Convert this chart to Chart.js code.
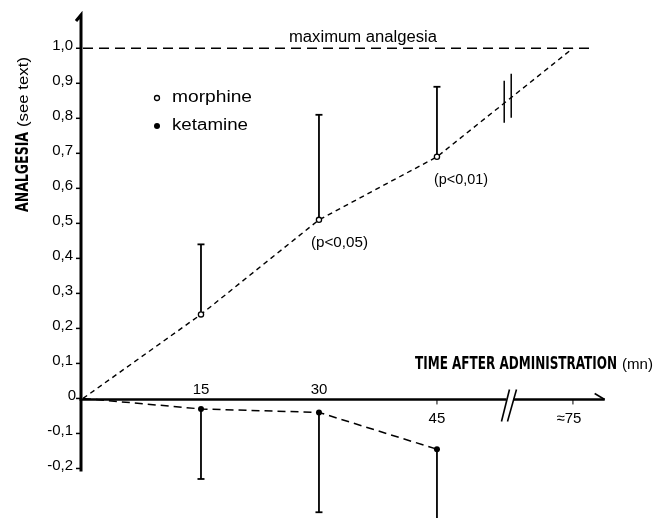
<!DOCTYPE html>
<html><head><meta charset="utf-8">
<script src="https://cdn.jsdelivr.net/npm/chart.js@4.4.1/dist/chart.umd.min.js"></script>
<style>html,body{margin:0;padding:0;background:#fff}canvas{display:block}</style>
</head><body>
<canvas id="c" width="655" height="518"></canvas>
<script>
// ---- data ----
const times = [0, 15, 30, 45, 75];
const morphine = [0, 0.24, 0.51, 0.69, 1.0];
const morphineUpper = [null, 0.44, 0.81, 0.89, null];
const morphineNotes = [null, null, '(p<0,05)', '(p<0,01)', null];
const ketamineTimes = [0, 15, 30, 45];
const ketamine = [0, -0.03, -0.04, -0.145];
const ketamineLower = [null, -0.23, -0.325, -0.36];
const yTicks = [1.0, 0.9, 0.8, 0.7, 0.6, 0.5, 0.4, 0.3, 0.2, 0.1, 0, -0.1, -0.2];
const xTicksAbove = [15, 30];
const xTicksBelow = [45, 75];
const xTickText = {15: '15', 30: '30', 45: '45', 75: '≈75'};
const maxAnalgesia = 1.0;
const maxLineEnd = 79;     // minutes (after axis break)
const axisEnd = 82;        // minutes (arrow tip)
const axisBreakAt = 61;    // minutes ("//" on the time axis)
const lineBreakAt = 60.5;  // minutes ("||" on the morphine line)

// axis break: after 45 mn the time axis is compressed
const BREAK = 45, SQUEEZE = 0.5763;
function bx(t){ return t <= BREAK ? t : BREAK + (t - BREAK) * SQUEEZE; }
function fmtY(v){ return v === 0 ? '0' : v.toFixed(1).replace('.', ','); }

const FAM = '"Liberation Sans", Arial, sans-serif';
const COND = '"DejaVu Sans Condensed", "Liberation Sans Narrow", sans-serif';

function txt(ctx, s, x, y, size, o = {}){
  const weight = o.weight || 'normal', family = o.family || FAM, align = o.align || 'left';
  ctx.save();
  ctx.font = `${weight} ${size}px ${family}`;
  ctx.textBaseline = 'alphabetic';
  ctx.textAlign = 'left';
  const w = ctx.measureText(s).width;
  const sx = o.width ? o.width / w : 1;
  const left = align === 'left' ? x : align === 'center' ? x - w * sx / 2 : x - w * sx;
  ctx.translate(left, y); ctx.scale(sx, 1);
  ctx.fillStyle = '#000';
  ctx.fillText(s, 0, 0);
  ctx.restore();
}
function line(ctx, x1, y1, x2, y2, w){
  ctx.lineWidth = w; ctx.beginPath(); ctx.moveTo(x1, y1); ctx.lineTo(x2, y2); ctx.stroke();
}

const deco = {
  id: 'deco',
  beforeDraw(chart){
    const ctx = chart.ctx; ctx.save(); ctx.fillStyle = '#fff'; ctx.fillRect(0, 0, chart.width, chart.height); ctx.restore();
  },
  beforeDatasetsDraw(chart){
    const {ctx, scales: {x, y}} = chart;
    const X = t => x.getPixelForValue(bx(t)), Y = v => y.getPixelForValue(v);
    ctx.save();
    ctx.strokeStyle = '#000'; ctx.fillStyle = '#000'; ctx.lineCap = 'butt';
    const ax = X(0) - 2;
    // y axis
    ctx.lineWidth = 3;
    ctx.beginPath(); ctx.moveTo(ax, Y(-0.2) + 3); ctx.lineTo(ax, y.top); ctx.lineTo(ax - 5, y.top + 6); ctx.stroke();
    yTicks.forEach(v => {
      line(ctx, ax - 5, Y(v), ax, Y(v), 1.5);
      txt(ctx, fmtY(v), v === 0 ? ax - 5 : ax - 8, Y(v) + 1.5, 15, {align: 'right'});
    });
    // x axis
    const y0 = Y(0) + 1;
    const brk = X(axisBreakAt);
    line(ctx, ax - 1.5, y0, brk - 3, y0, 2.5);
    line(ctx, brk + 4, y0, X(axisEnd), y0, 2.5);
    line(ctx, X(axisEnd), y0, X(axisEnd) - 10, y0 - 6, 1.6);
    line(ctx, brk - 8, y0 + 22, brk, y0 - 10, 1.6);
    line(ctx, brk - 2, y0 + 22, brk + 7, y0 - 10, 1.6);
    xTicksAbove.forEach(t => txt(ctx, xTickText[t], X(t), y0 - 5, 15, {align: 'center'}));
    xTicksBelow.forEach(t => {
      line(ctx, X(t), y0, X(t), y0 + 5, 1);
      txt(ctx, xTickText[t], X(t) - (t === 75 ? 4 : 0), y0 + 24, 15, {align: 'center'});
    });
    // error bars
    ctx.lineWidth = 1.8;
    times.forEach((t, i) => {
      if (morphineUpper[i] == null) return;
      const px = X(t);
      line(ctx, px, Y(morphine[i]), px, Y(morphineUpper[i]), 1.8);
      line(ctx, px - 3.5, Y(morphineUpper[i]), px + 3.5, Y(morphineUpper[i]), 1.8);
    });
    ketamineTimes.forEach((t, i) => {
      if (ketamineLower[i] == null) return;
      const px = X(t);
      line(ctx, px, Y(ketamine[i]), px, Y(ketamineLower[i]), 1.8);
      line(ctx, px - 3.5, Y(ketamineLower[i]), px + 3.5, Y(ketamineLower[i]), 1.8);
    });
    // break marks on the morphine line
    const i45 = times.indexOf(45), i75 = times.indexOf(75);
    const f = (lineBreakAt - 45) / (75 - 45);
    const vb = morphine[i45] + f * (morphine[i75] - morphine[i45]);
    const pbx = X(lineBreakAt), pby = Y(vb);
    line(ctx, pbx - 3, pby - 20, pbx - 3, pby + 22, 1.5);
    line(ctx, pbx + 4, pby - 27, pbx + 4, pby + 17, 1.5);
    ctx.restore();
  },
  afterDatasetsDraw(chart){
    const {ctx, scales: {x, y}} = chart;
    const X = t => x.getPixelForValue(bx(t)), Y = v => y.getPixelForValue(v);
    ctx.save();
    // labels
    txt(ctx, 'maximum analgesia', 289, 42, 16, {width: 148});
    // legend
    ctx.strokeStyle = '#000'; ctx.fillStyle = '#fff'; ctx.lineWidth = 1.3;
    ctx.beginPath(); ctx.arc(157, 98, 2.5, 0, Math.PI * 2); ctx.fill(); ctx.stroke();
    ctx.fillStyle = '#000';
    ctx.beginPath(); ctx.arc(157, 126, 3, 0, Math.PI * 2); ctx.fill();
    txt(ctx, 'morphine', 172, 102, 16, {width: 80});
    txt(ctx, 'ketamine', 172, 130, 16, {width: 76});
    // significance notes
    times.forEach((t, i) => {
      if (!morphineNotes[i]) return;
      txt(ctx, morphineNotes[i], X(t) - (t === 30 ? 8 : 3), Y(morphine[i]) + 27, 15, {width: t === 30 ? 57 : 54});
    });
    // axis titles
    txt(ctx, 'TIME AFTER ADMINISTRATION', 415, 369, 17, {weight: 'bold', family: COND, width: 202});
    txt(ctx, '(mn)', 622, 369, 14, {width: 31});
    ctx.save();
    ctx.translate(28, 212); ctx.rotate(-Math.PI / 2);
    txt(ctx, 'ANALGESIA', 0, 0, 17, {weight: 'bold', family: COND, width: 80});
    txt(ctx, '(see text)', 85, 0, 14, {width: 70});
    ctx.restore();
    ctx.restore();
  }
};

new Chart(document.getElementById('c'), {
  type: 'scatter',
  data: {
    datasets: [
      {
        label: 'maximum analgesia',
        data: [{x: bx(0), y: maxAnalgesia}, {x: bx(maxLineEnd), y: maxAnalgesia}],
        showLine: true, borderColor: '#000', borderWidth: 1.4, borderDash: [10, 6], pointRadius: 0
      },
      {
        label: 'morphine',
        data: times.map((t, i) => ({x: bx(t), y: morphine[i]})),
        showLine: true, borderColor: '#000', borderWidth: 1.4, borderDash: [5, 4],
        pointRadius: times.map((t, i) => morphineUpper[i] == null ? 0 : 2.6),
        pointBackgroundColor: '#fff', pointBorderColor: '#000', pointBorderWidth: 1.3
      },
      {
        label: 'ketamine',
        data: ketamineTimes.map((t, i) => ({x: bx(t), y: ketamine[i]})),
        showLine: true, borderColor: '#000', borderWidth: 1.5, borderDash: [8, 5],
        pointRadius: ketamineTimes.map((t, i) => ketamineLower[i] == null ? 0 : 3),
        pointBackgroundColor: '#000', pointBorderColor: '#000', pointBorderWidth: 0
      }
    ]
  },
  options: {
    responsive: false, animation: false, events: [],
    layout: {padding: {left: 83, right: 45, top: 15, bottom: 0}},
    scales: {
      x: {type: 'linear', display: false, min: 0, max: 67},
      y: {type: 'linear', display: false, min: -0.33, max: 1.095}
    },
    plugins: {legend: {display: false}, tooltip: {enabled: false}}
  },
  plugins: [deco]
});
</script>
</body></html>
